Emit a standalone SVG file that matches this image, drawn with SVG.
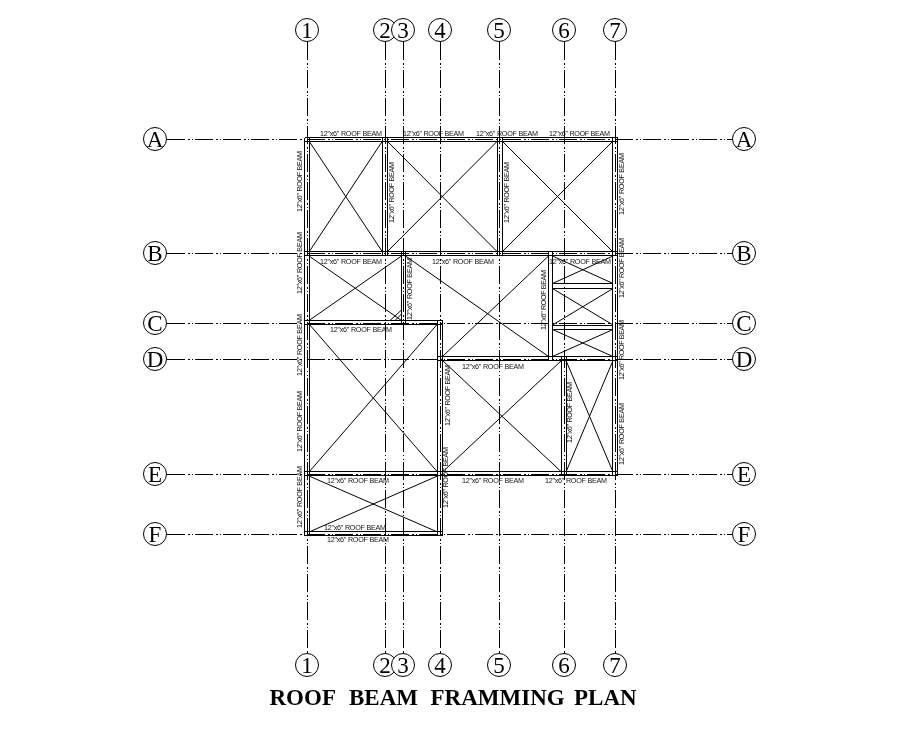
<svg xmlns="http://www.w3.org/2000/svg" width="904" height="730" viewBox="0 0 904 730">
<style>
.g{stroke:#000;stroke-width:1;stroke-dasharray:18 3 1.5 2 1.5 2;fill:none;shape-rendering:crispEdges}
.b{stroke:#000;stroke-width:1;fill:none;shape-rendering:crispEdges}
.d{stroke:#000;stroke-width:1;fill:none}
.c{fill:#fff;stroke:#000;stroke-width:1}
.n{font-family:"Liberation Serif",serif;font-size:23px;text-anchor:middle;fill:#000}
.l{font-family:"Liberation Sans",sans-serif;font-size:7.2px;fill:#111}
.t{font-family:"Liberation Serif",serif;font-size:23px;font-weight:bold;fill:#000}
</style>
<rect width="904" height="730" fill="#fff"/>
<g id="grid-lines">
<path class="g" d="M307.5 42V653M385.500 42V653M403.500 42V653M440.500 42V653M499.500 42V653M564.500 42V653M615.500 42V653"/>
<path class="g" d="M167 139.500H732M167 253.500H732M167 323.500H732M167 359.500H732M167 474.500H732M167 534.500H732"/>
</g>
<g id="beams">
<path class="b" d="M304.500 137.500H617.500M304.500 141.500H617.500M304.500 251.500H617.500M304.500 255.500H617.500M304.500 320.500H442.500M304.500 324.500H442.500M437.500 356.500H617.500M437.500 360.500H617.500M304.500 471.500H617.500M304.500 475.500H617.500M304.500 531.500H442.500M304.500 535.500H442.500"/>
<path class="b" d="M304.500 137.500V535.500M309.500 137.500V535.500M382.500 137.500V255.500M387.500 137.500V255.500M401.500 251.500V324.500M405.500 251.500V324.500M437.500 320.500V535.500M442.500 320.500V535.500M497.500 137.500V255.500M502.500 137.500V255.500M548.500 251.500V360.500M552.500 251.500V360.500M561.500 356.500V475.500M566.500 356.500V475.500M612.500 137.500V475.500M617.500 137.500V475.500"/>
<path class="b" d="M552.500 283.500H613M552.500 288.500H613M552.500 325.500H613M552.500 329.500H613"/>
</g>
<g id="diagonals">
<path class="d" d="M309 141L382.500 252M382.500 141L309 252M387 141L497.500 252M497.500 141L387 252M502 141L613 252M613 141L502 252"/>
<path class="d" d="M309 256L401.500 320.500M401.500 256L309 320.500M405.500 256L548.500 356.500M548.500 256L442.500 356.500"/>
<path class="d" d="M552.500 256L613 283.500M613 256L552.500 283.500M552.500 288.500L613 325M613 288.500L552.500 325M552.500 329.500L613 356.500M613 329.500L552.500 356.500"/>
<path class="d" d="M309 324L437.500 472M437.500 324L309 472M309 476L437.500 532M437.500 476L309 532M442.500 360.500L561.500 472M561.500 360.500L442.500 472M566 360.500L613 472M613 360.500L566 472"/>
<path class="d" d="M390 320.500L401.500 310M395 320.500L401.500 314"/>
</g>
<g id="beam-labels" class="l" opacity=".99">
<text x="320" y="136" textLength="62">12"x6" ROOF BEAM</text>
<text x="403" y="136" textLength="61">12"x6" ROOF BEAM</text>
<text x="476" y="136" textLength="62">12"x6" ROOF BEAM</text>
<text x="549" y="136" textLength="61">12"x6" ROOF BEAM</text>
<text x="320" y="264" textLength="62">12"x6" ROOF BEAM</text>
<text x="432" y="264" textLength="62">12"x6" ROOF BEAM</text>
<text x="549" y="264" textLength="62">12"x6" ROOF BEAM</text>
<text x="330" y="332" textLength="62">12"x6" ROOF BEAM</text>
<text x="462" y="369" textLength="62">12"x6" ROOF BEAM</text>
<text x="327" y="483" textLength="62">12"x6" ROOF BEAM</text>
<text x="462" y="483" textLength="62">12"x6" ROOF BEAM</text>
<text x="545" y="483" textLength="62">12"x6" ROOF BEAM</text>
<text x="324" y="530" textLength="62">12"x6" ROOF BEAM</text>
<text x="327" y="542" textLength="62">12"x6" ROOF BEAM</text>
<text transform="translate(301.500 212) rotate(-90)" textLength="61">12"x6" ROOF BEAM</text>
<text transform="translate(301.500 294) rotate(-90)" textLength="62">12"x6" ROOF BEAM</text>
<text transform="translate(301.500 376) rotate(-90)" textLength="62">12"x6" ROOF BEAM</text>
<text transform="translate(301.500 452) rotate(-90)" textLength="61">12"x6" ROOF BEAM</text>
<text transform="translate(301.500 528) rotate(-90)" textLength="62">12"x6" ROOF BEAM</text>
<text transform="translate(393.500 223) rotate(-90)" textLength="61">12"x6" ROOF BEAM</text>
<text transform="translate(411.500 320) rotate(-90)" textLength="62">12"x6" ROOF BEAM</text>
<text transform="translate(449.500 426) rotate(-90)" textLength="61">12"x6" ROOF BEAM</text>
<text transform="translate(447.500 508) rotate(-90)" textLength="61">12"x6" ROOF BEAM</text>
<text transform="translate(508.500 223) rotate(-90)" textLength="61">12"x6" ROOF BEAM</text>
<text transform="translate(545.500 330) rotate(-90)" textLength="60">12"x6" ROOF BEAM</text>
<text transform="translate(571.500 443) rotate(-90)" textLength="61">12"x6" ROOF BEAM</text>
<text transform="translate(623.500 215) rotate(-90)" textLength="62">12"x6" ROOF BEAM</text>
<text transform="translate(623.500 298) rotate(-90)" textLength="60">12"x6" ROOF BEAM</text>
<text transform="translate(623.500 380) rotate(-90)" textLength="60">12"x6" ROOF BEAM</text>
<text transform="translate(623.500 465) rotate(-90)" textLength="62">12"x6" ROOF BEAM</text>
</g>
<g id="bubble-top-1"><circle class="c" cx="307" cy="30" r="11.500"/><text class="n" x="307" y="38">1</text></g>
<g id="bubble-top-2"><circle class="c" cx="385" cy="30" r="11.500"/><text class="n" x="385" y="38">2</text></g>
<g id="bubble-top-3"><circle class="c" cx="403" cy="30" r="11.500"/><text class="n" x="403" y="38">3</text></g>
<g id="bubble-top-4"><circle class="c" cx="440" cy="30" r="11.500"/><text class="n" x="440" y="38">4</text></g>
<g id="bubble-top-5"><circle class="c" cx="499" cy="30" r="11.500"/><text class="n" x="499" y="38">5</text></g>
<g id="bubble-top-6"><circle class="c" cx="564" cy="30" r="11.500"/><text class="n" x="564" y="38">6</text></g>
<g id="bubble-top-7"><circle class="c" cx="615" cy="30" r="11.500"/><text class="n" x="615" y="38">7</text></g>
<g id="bubble-bottom-1"><circle class="c" cx="307" cy="665" r="11.500"/><text class="n" x="307" y="673">1</text></g>
<g id="bubble-bottom-2"><circle class="c" cx="385" cy="665" r="11.500"/><text class="n" x="385" y="673">2</text></g>
<g id="bubble-bottom-3"><circle class="c" cx="403" cy="665" r="11.500"/><text class="n" x="403" y="673">3</text></g>
<g id="bubble-bottom-4"><circle class="c" cx="440" cy="665" r="11.500"/><text class="n" x="440" y="673">4</text></g>
<g id="bubble-bottom-5"><circle class="c" cx="499" cy="665" r="11.500"/><text class="n" x="499" y="673">5</text></g>
<g id="bubble-bottom-6"><circle class="c" cx="564" cy="665" r="11.500"/><text class="n" x="564" y="673">6</text></g>
<g id="bubble-bottom-7"><circle class="c" cx="615" cy="665" r="11.500"/><text class="n" x="615" y="673">7</text></g>
<g id="bubble-left-A"><circle class="c" cx="155" cy="139" r="11.500"/><text class="n" x="155" y="147">A</text></g>
<g id="bubble-left-B"><circle class="c" cx="155" cy="253" r="11.500"/><text class="n" x="155" y="261">B</text></g>
<g id="bubble-left-C"><circle class="c" cx="155" cy="323" r="11.500"/><text class="n" x="155" y="331">C</text></g>
<g id="bubble-left-D"><circle class="c" cx="155" cy="359" r="11.500"/><text class="n" x="155" y="367">D</text></g>
<g id="bubble-left-E"><circle class="c" cx="155" cy="474" r="11.500"/><text class="n" x="155" y="482">E</text></g>
<g id="bubble-left-F"><circle class="c" cx="155" cy="534" r="11.500"/><text class="n" x="155" y="542">F</text></g>
<g id="bubble-right-A"><circle class="c" cx="744" cy="139" r="11.500"/><text class="n" x="744" y="147">A</text></g>
<g id="bubble-right-B"><circle class="c" cx="744" cy="253" r="11.500"/><text class="n" x="744" y="261">B</text></g>
<g id="bubble-right-C"><circle class="c" cx="744" cy="323" r="11.500"/><text class="n" x="744" y="331">C</text></g>
<g id="bubble-right-D"><circle class="c" cx="744" cy="359" r="11.500"/><text class="n" x="744" y="367">D</text></g>
<g id="bubble-right-E"><circle class="c" cx="744" cy="474" r="11.500"/><text class="n" x="744" y="482">E</text></g>
<g id="bubble-right-F"><circle class="c" cx="744" cy="534" r="11.500"/><text class="n" x="744" y="542">F</text></g>
<text class="t" y="705"><tspan x="269.500">ROOF</tspan> <tspan x="349">BEAM</tspan> <tspan x="430.500">FRAMMING</tspan> <tspan x="574">PLAN</tspan></text>
</svg>
